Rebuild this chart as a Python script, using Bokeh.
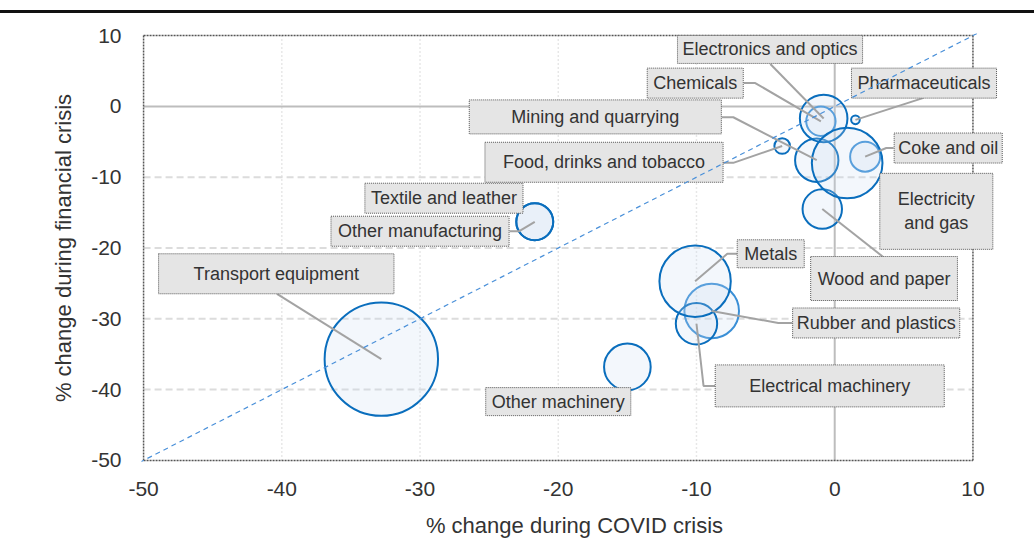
import math
from bokeh.plotting import figure
from bokeh.models import ColumnDataSource, FixedTicker, Slope, Div, Label
from bokeh.layouts import column
from bokeh.embed import file_html
from bokeh.resources import INLINE

# ---------------- data ----------------
sectors = ["Rubber and plastics", "Electrical machinery", "Metals", "Transport equipment",
           "Other machinery", "Textile and leather", "Other manufacturing", "Wood and paper",
           "Coke and oil", "Mining and quarrying", "Chemicals", "Electronics and optics",
           "Electricity and gas", "Food, drinks and tobacco", "Pharmaceuticals"]
covid_change = [-8.9, -10.0, -10.1, -32.8, -15.0, -21.7, -21.7, -0.9, 2.2, -1.3, -1.0, -0.8, 0.9, -3.8, 1.5]
financial_change = [-28.9, -30.7, -24.7, -35.7, -36.8, -16.3, -16.3, -14.5, -7.1, -7.6, -2.1, -1.7, -8.0, -5.6, -1.9]
weight = [23.2, 13.3, 39.6, 100.0, 16.9, 10.6, 10.6, 12.1, 7.0, 14.6, 6.7, 17.6, 38.8, 1.9, 0.58]
x_ticks = [-50, -40, -30, -20, -10, 0, 10]
y_ticks = [-50, -40, -30, -20, -10, 0, 10]

# ---------------- label layout (annotation placement) ----------------
label_layout = {
    "Electronics and optics": dict(x=-4.68, y=8.05, w=186, h=29, lead=[(-4.66, 6.0)]),
    "Chemicals": dict(x=-10.09, y=3.29, w=97, h=30, lead=[(-6.59, 3.3), (-5.75, 3.3)]),
    "Pharmaceuticals": dict(x=6.46, y=3.29, w=146, h=30, lead=[(6.43, 1.2)]),
    "Mining and quarrying": dict(x=-17.32, y=-1.48, w=253, h=34, lead=[(-8.16, -1.53), (-7.34, -1.53)]),
    "Food, drinks and tobacco": dict(x=-16.69, y=-7.89, w=238, h=40, lead=[(-8.09, -7.97), (-7.34, -7.97)]),
    "Textile and leather": dict(x=-28.27, y=-12.97, w=161, h=30, lead=None),
    "Other manufacturing": dict(x=-30.0, y=-17.63, w=179, h=30, lead=[(-23.52, -17.63), (-22.82, -17.63)]),
    "Transport equipment": dict(x=-40.4, y=-23.64, w=237, h=40, lead=[(-40.35, -26.47)]),
    "Coke and oil": dict(x=8.21, y=-5.88, w=109, h=30, lead=[(4.26, -5.88), (3.73, -5.88)]),
    "Electricity and gas": dict(x=7.35, y=-14.82, w=114, h=73, lead=None),
    "Metals": dict(x=-4.63, y=-20.82, w=68, h=29, lead=[(-7.07, -20.82), (-7.77, -20.82)]),
    "Wood and paper": dict(x=3.57, y=-24.31, w=148, h=43, lead=[(3.53, -21.3)]),
    "Rubber and plastics": dict(x=3.0, y=-30.59, w=168, h=30, lead=[(-3.05, -30.59), (-4.08, -30.59)]),
    "Electrical machinery": dict(x=-0.36, y=-39.48, w=229, h=42, lead=[(-8.64, -39.48), (-9.49, -39.48)]),
    "Other machinery": dict(x=-20.0, y=-41.7, w=146, h=29, lead=None),
}
display_text = {"Electricity and gas": "Electricity\nand gas"}
light_stroke = {"Rubber and plastics", "Coke and oil", "Chemicals"}

FONT = "Liberation Sans"
TXT = "#333333"
LABEL_PX = 18

# approximate Arial/Liberation advance widths (per 1000 em) to size label padding
_W = dict(zip("abcdefghijklmnopqrstuvwxyz",
              [556, 556, 500, 556, 556, 278, 556, 556, 222, 222, 500, 222, 833,
               556, 556, 556, 556, 333, 500, 278, 556, 500, 722, 500, 500, 500]))
_W.update({" ": 278, ",": 278, "C": 722, "E": 667, "F": 611, "M": 833, "O": 778,
           "P": 667, "R": 722, "T": 611, "W": 944})


def text_width(s):
    return max(sum(_W.get(c, 556) for c in line) for line in s.split("\n")) * LABEL_PX / 1000.0


x0, x1 = x_ticks[0], x_ticks[-1]
y0, y1 = y_ticks[0], y_ticks[-1]

# the frame is widened on the right so that the overhanging label boxes are not clipped
p = figure(frame_width=866, frame_height=429, x_range=(x0 - 0.15, x1 + 2.5), y_range=(y0 - 0.3, y1 + 0.3),
           output_backend="svg", toolbar_location=None,
           min_border_left=141, min_border_right=19, min_border_top=20, min_border_bottom=20)

p.background_fill_color = "white"
p.border_fill_color = "white"
p.outline_line_color = None
p.xgrid.grid_line_color = None
p.ygrid.grid_line_color = None

# axes
for ax, ticks in ((p.xaxis[0], x_ticks), (p.yaxis[0], y_ticks)):
    ax.ticker = FixedTicker(ticks=ticks)
    ax.major_label_overrides = {t: str(t) for t in ticks}
    ax.axis_line_color = None
    ax.major_tick_line_color = None
    ax.minor_tick_line_color = None
    ax.major_tick_out = 0
    ax.major_tick_in = 0
    ax.major_label_text_font = FONT
    ax.major_label_text_font_size = "21px"
    ax.major_label_text_color = TXT
    ax.axis_label_text_font = FONT
    ax.axis_label_text_font_size = "22px"
    ax.axis_label_text_font_style = "normal"
    ax.axis_label_text_color = TXT

p.xaxis.axis_label = "% change during COVID crisis"
p.yaxis.axis_label = "% change during financial crisis"
p.xaxis.major_label_standoff = 19
p.xaxis.axis_label_standoff = 14
p.yaxis.major_label_standoff = 20
p.yaxis.axis_label_standoff = 12

# grid lines (drawn over the chart area only)
gx = [t for t in x_ticks[1:-1] if t != 0]
gy = [t for t in y_ticks[1:-1] if t != 0]
p.segment(x0=gx, y0=[y0] * len(gx), x1=gx, y1=[y1] * len(gx),
          line_color="#d0d0d0", line_dash="1 3", line_width=1.5)
p.segment(x0=[x0] * len(gy), y0=gy, x1=[x1] * len(gy), y1=gy,
          line_color="#dcdcdc", line_dash="7 4", line_width=2)
# zero lines
p.segment(x0=[x0, 0], y0=[0, y0], x1=[x1, 0], y1=[0, y1], line_color="#bdbdbd", line_width=2)
# chart border
p.segment(x0=[x0, x1, x0, x0], y0=[y0, y0, y0, y1], x1=[x0, x1, x1, x1], y1=[y1, y1, y0, y1],
          line_color="#555555", line_dash="2 1", line_width=1.5)

# bubbles
sizes = [2 * 5.67 * math.sqrt(w) for w in weight]
strokes = ["#3a8fd6" if s in light_stroke else "#0a6ebd" for s in sectors]
src = ColumnDataSource(dict(x=covid_change, y=financial_change, size=sizes, stroke=strokes, name=sectors))
p.scatter("x", "y", size="size", source=src, marker="circle",
          fill_color="#c8dcf0", fill_alpha=0.22, line_color="stroke", line_width=2)

# leader lines
xs, ys = [], []
for name, cx, cy in zip(sectors, covid_change, financial_change):
    lay = label_layout[name]
    if lay["lead"]:
        pts = list(lay["lead"]) + [(cx, cy)]
        xs.append([pt[0] for pt in pts])
        ys.append([pt[1] for pt in pts])
p.multi_line(xs, ys, line_color="#a3a3a3", line_width=2)

# label boxes
for name in sectors:
    lay = label_layout[name]
    txt = display_text.get(name, name)
    nlines = txt.count("\n") + 1
    tw = text_width(txt)
    th = 20 if nlines == 1 else 42
    px = max(1, int(round((lay["w"] - tw) / 2)))
    py = max(1, int(round((lay["h"] - th) / 2)))
    # padding order: (left, right, top, bottom)
    p.add_layout(Label(x=lay["x"], y=lay["y"], text=txt, anchor="center",
                       text_align="center", text_baseline="middle",
                       text_font=FONT, text_font_size=f"{LABEL_PX}px", text_color=TXT,
                       text_line_height=1.2,
                       background_fill_color="#e5e5e5", background_fill_alpha=1.0,
                       border_line_color="#555555", border_line_dash="1 1", border_line_width=1,
                       padding=(px, px, py, py)))

# 45-degree reference line
p.add_layout(Slope(gradient=1, y_intercept=0, line_color="#4a90d9", line_dash="5 4", line_width=1.2))

top_rule = Div(text="", width=1034, height=3, margin=(10, 0, 0, 0),
               styles={"background-color": "#111111"})

layout = column(top_rule, p, spacing=0)
open("out.html", "w").write(file_html(layout, INLINE))
